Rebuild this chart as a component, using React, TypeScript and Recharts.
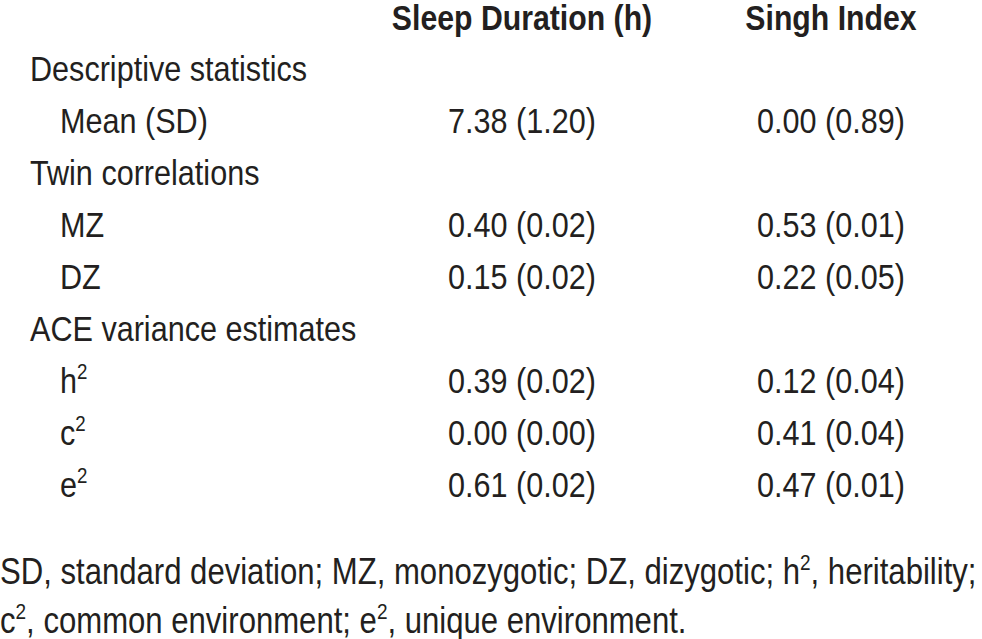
import React from 'react';
import { Surface } from 'recharts';

const columnHeaders = ['Sleep Duration (h)', 'Singh Index'];
const rowLabels = [
  'Descriptive statistics',
  'Mean (SD)',
  'Twin correlations',
  'MZ',
  'DZ',
  'ACE variance estimates',
  'h',
  'c',
  'e',
];
const rowSup = ['', '', '', '', '', '', '2', '2', '2'];
const rowLevel = [0, 1, 0, 1, 1, 0, 1, 1, 1];
const sleepValues = ['', '7.38 (1.20)', '', '0.40 (0.02)', '0.15 (0.02)', '', '0.39 (0.02)', '0.00 (0.00)', '0.61 (0.02)'];
const singhValues = ['', '0.00 (0.89)', '', '0.53 (0.01)', '0.22 (0.05)', '', '0.12 (0.04)', '0.41 (0.04)', '0.47 (0.01)'];
// footnote pieces: [text, superscript]
const footLine1 = [['SD, standard deviation; MZ, monozygotic; DZ, dizygotic; h', '2'], [', heritability;', '']];
const footLine2 = [['c', '2'], [', common environment; e', '2'], [', unique environment.', '']];

const W = 982;
const H = 639;
const FONT = "'Liberation Sans', Arial, sans-serif";
const SIZE = 36;
const INK = '#231f20';
const colX = [522, 831];
const headerY = 30;
const firstRowY = 81;
const rowStep = 52;
const indent = [30, 60];

const Squeezed = ({ x, y, anchor = 'start', bold = false, sx = 0.85, children }: any) => (
  <g transform={`translate(${x},${y}) scale(${sx},1)`}>
    <text x={0} y={0} textAnchor={anchor} fontFamily={FONT} fontSize={SIZE} fontWeight={bold ? 700 : 400} fill={INK}>
      {children}
    </text>
  </g>
);

const sup = (s: string, key: string) =>
  s ? (
    <tspan key={key} fontSize={22} dy={-14}>
      {s}
    </tspan>
  ) : null;

const App = () => {
  return (
    <div style={{ position: 'absolute', left: 0, top: 0, width: W, height: H, background: '#fff' }}>
      <Surface width={W} height={H}>
        {columnHeaders.map((h, i) => (
          <Squeezed key={h} x={colX[i]} y={headerY} anchor="middle" bold sx={0.84}>
            {h}
          </Squeezed>
        ))}
        {rowLabels.map((label, i) => {
          const y = firstRowY + i * rowStep;
          return (
            <g key={label + i}>
              <Squeezed x={indent[rowLevel[i]]} y={y}>
                <tspan>{label}</tspan>
                {sup(rowSup[i], 's')}
              </Squeezed>
              {sleepValues[i] && (
                <Squeezed x={colX[0]} y={y} anchor="middle">
                  {sleepValues[i]}
                </Squeezed>
              )}
              {singhValues[i] && (
                <Squeezed x={colX[1]} y={y} anchor="middle">
                  {singhValues[i]}
                </Squeezed>
              )}
            </g>
          );
        })}
        {[footLine1, footLine2].map((line, li) => (
          <Squeezed key={li} x={0} y={584 + li * 49} sx={0.864}>
            {line.map(([t, s], k) => [
              <tspan key={'t' + k} dy={k > 0 && line[k - 1][1] ? 14 : 0}>
                {t}
              </tspan>,
              sup(s, 's' + k),
            ])}
          </Squeezed>
        ))}
      </Surface>
    </div>
  );
};

export default App;
